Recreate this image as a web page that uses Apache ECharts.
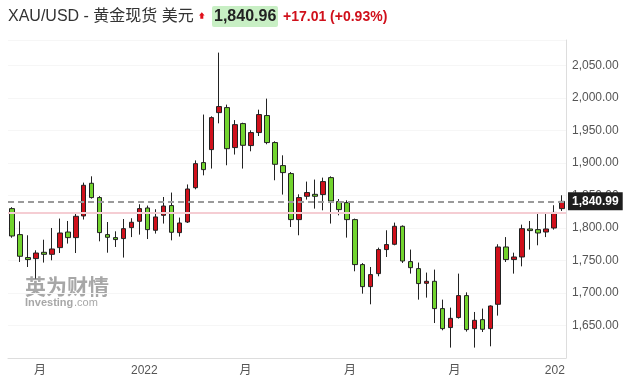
<!DOCTYPE html>
<html>
<head>
<meta charset="utf-8">
<script src="https://cdn.jsdelivr.net/npm/echarts@6/dist/echarts.min.js"></script>
<style>
html,body{margin:0;padding:0;background:#fff;}
#chart{width:633px;height:389px;}
</style>
</head>
<body>
<div id="chart"></div>
<script>
// Weekly candles (week start dates)
var weeks = [];
(function(){
  var d = new Date(Date.UTC(2021, 8, 5));
  for (var i = 0; i < 70; i++) {
    weeks.push(d.toISOString().slice(0,10));
    d = new Date(d.getTime() + 7*86400000);
  }
})();

var opens  = [1829.8,1789.8,1754.5,1752.9,1762.6,1759.5,1769.8,1793.8,1785.2,1818.5,
              1868.8,1846.8,1789.8,1785.2,1783.7,1800.6,1810.3,1830.8,1796.5,1819.5,
              1834.5,1792.9,1809.2,1862.0,1900.6,1920.6,1977.5,1985.2,1923.7,1960.6,
              1926.8,1946.8,1973.0,1931.4,1896.0,1883.7,1812.9,1848.8,1851.8,1851.4,
              1877.5,1840.6,1839.0,1812.9,1743.7,1709.8,1729.8,1766.8,1774.9,1802.6,
              1748.3,1737.5,1714.9,1718.0,1676.0,1646.8,1662.2,1696.0,1645.2,1659.0,
              1645.2,1682.6,1770.8,1751.4,1755.4,1798.5,1797.5,1793.8,1800.0,1829.8];
var closes = [1787.7,1756.5,1751.4,1761.5,1759.5,1767.7,1792.3,1785.2,1818.0,1865.7,
              1846.8,1792.9,1785.7,1782.2,1799.0,1808.8,1829.8,1797.5,1817.0,1833.8,
              1793.4,1807.7,1860.0,1899.0,1889.8,1969.8,1986.8,1922.0,1959.0,1927.2,
              1946.8,1974.5,1931.4,1898.0,1885.2,1812.9,1846.8,1854.5,1848.8,1871.4,
              1841.5,1828.3,1812.9,1743.7,1709.8,1728.3,1766.8,1774.5,1802.6,1749.2,
              1739.0,1714.5,1718.0,1676.0,1645.2,1661.0,1696.0,1643.7,1658.0,1644.2,
              1680.0,1770.8,1751.4,1755.4,1799.0,1796.0,1792.3,1798.5,1823.95,1840.96];
var lows   = [1785.0,1747.7,1740.0,1722.2,1746.8,1750.3,1761.5,1776.0,1761.5,1813.0,
              1845.2,1779.5,1762.0,1770.8,1754.5,1786.0,1789.8,1783.0,1791.4,1806.8,
              1781.0,1786.8,1807.7,1859.5,1881.0,1891.4,1961.0,1896.5,1913.0,1891.4,
              1918.0,1941.5,1928.8,1873.4,1851.4,1801.5,1788.8,1843.7,1829.8,1827.2,
              1806.8,1819.5,1785.2,1733.4,1699.0,1682.6,1725.7,1755.4,1773.4,1746.2,
              1729.8,1689.8,1692.9,1653.8,1642.6,1616.0,1660.6,1640.6,1616.0,1640.0,
              1618.0,1665.2,1747.7,1729.8,1741.0,1766.8,1773.4,1786.0,1797.5,1826.2];
var highs  = [1832.0,1810.3,1788.8,1765.7,1782.0,1800.0,1814.5,1810.8,1822.0,1869.8,
              1879.5,1849.0,1809.2,1794.9,1813.8,1815.0,1836.5,1834.5,1828.8,1847.7,
              1854.5,1816.0,1867.0,1904.0,1974.5,1971.8,2069.8,1989.8,1966.0,1962.0,
              1950.3,1982.0,1999.0,1933.4,1911.8,1886.0,1851.8,1871.4,1874.5,1877.5,
              1879.5,1844.6,1842.6,1814.5,1746.0,1740.0,1769.8,1796.5,1808.3,1804.0,
              1766.8,1746.8,1731.4,1736.0,1689.8,1677.5,1729.8,1701.0,1670.8,1676.0,
              1681.0,1775.0,1786.0,1762.0,1805.2,1810.8,1824.6,1824.6,1835.0,1850.3];

var lastPrice = 1840.99;
var prevClose = 1823.95;

var xTickPos    = [3.5, 16.6, 29.3, 42.4, 55.5, 68.1];
var xTickLabels = ['月', '2022', '月', '月', '月', '202'];
var yTicks = [1650, 1700, 1750, 1800, 1850, 1900, 1950, 2000, 2050];

var ohlc = opens.map(function(o, i){ return [o, closes[i], lows[i], highs[i]]; });

function fmt(v){
  return v.toLocaleString('en-US', {minimumFractionDigits: 2, maximumFractionDigits: 2});
}

var FONT = "'Liberation Sans', Arial, 'Noto Sans CJK SC', sans-serif";
var chart = echarts.init(document.getElementById('chart'), null, {renderer: 'canvas'});
chart.setOption({
  animation: false,
  backgroundColor: '#fff',
  grid: {left: 8, right: 67, top: 40, bottom: 31, containLabel: false},
  xAxis: [{
    type: 'category', data: weeks, boundaryGap: true,
    axisLine: {show: false}, axisTick: {show: false}, axisLabel: {show: false},
    splitLine: {show: false}
  }, {
    type: 'value', min: -0.5, max: 69.5, position: 'bottom',
    axisLine: {show: true, onZero: false, lineStyle: {color: '#dddddd', width: 1}},
    axisTick: {show: false, customValues: xTickPos},
    splitLine: {show: false},
    axisLabel: {
      customValues: xTickPos, margin: 7, color: '#555', fontSize: 12, fontFamily: FONT,
      formatter: function(v){
        var best = 0, bd = 1e9;
        xTickPos.forEach(function(p, i){ var d = Math.abs(p - v); if (d < bd){bd = d; best = i;} });
        return xTickLabels[best];
      }
    }
  }],
  yAxis: {
    type: 'value', position: 'right', min: 1600, max: 2089.2, interval: 50, scale: true,
    axisLine: {show: true, onZero: false, lineStyle: {color: '#dddddd', width: 1}},
    axisTick: {show: false},
    splitLine: {show: true, lineStyle: {color: '#f6f6f6', width: 1}},
    axisLabel: {
      margin: 6, color: '#555', fontSize: 12, fontFamily: FONT,
      formatter: function(v){ return yTicks.indexOf(v) >= 0 ? fmt(v) : ''; }
    }
  },
  series: [{
    type: 'candlestick',
    xAxisIndex: 0, yAxisIndex: 0,
    data: ohlc,
    barWidth: 5,
    itemStyle: {
      color: '#d0101b', color0: '#72d42e',
      borderColor: '#222', borderColor0: '#222', borderWidth: 1
    },
    markLine: {
      silent: true, symbol: ['none', 'none'], animation: false,
      data: [
        {yAxis: prevClose, lineStyle: {color: '#f5cdd3', width: 2, type: 'solid'}, label: {show: false}},
        {yAxis: lastPrice, lineStyle: {color: '#9a9a9a', width: 2, type: [6, 4]},
         label: {show: true, position: 'end', distance: 2, formatter: fmt(lastPrice),
                 backgroundColor: '#1e1e1e', color: '#fff', fontWeight: 'bold', fontSize: 12,
                 fontFamily: FONT, padding: [3, 4, 3, 4]}}
      ]
    }
  }],
  graphic: [
    {type: 'text', left: 8, top: 9, style: {text: 'XAU/USD - 黄金现货 美元', fill: '#333', font: "16px " + FONT}},
    {type: 'polygon', shape: {points: [[199,15.5],[201.8,12.3],[204.6,15.5],[203.3,15.5],[203.3,18.8],[200.3,18.8],[200.3,15.5]]},
     style: {fill: '#e0101b'}},
    {type: 'rect', shape: {x: 212, y: 6, width: 66, height: 21, r: 2}, style: {fill: '#c8efc4'}},
    {type: 'text', left: 214, top: 9, style: {text: '1,840.96', fill: '#222', font: "bold 16px " + FONT}},
    {type: 'text', left: 283, top: 10, style: {text: '+17.01 (+0.93%)', fill: '#d0101b', font: "bold 14px " + FONT}},
    {type: 'text', left: 25, top: 276, z: 0, style: {text: '英为财情', fill: 'rgba(130,130,130,0.7)', font: "bold 21px 'Noto Sans CJK SC', sans-serif"}},
    {type: 'text', left: 25, top: 297, z: 0, style: {text: 'Investing', fill: 'rgba(130,130,130,0.7)', font: "bold 11px " + FONT}},
    {type: 'text', left: 74, top: 297, z: 0, style: {text: '.com', fill: 'rgba(130,130,130,0.7)', font: "11px " + FONT}}
  ]
});
</script>
</body>
</html>
